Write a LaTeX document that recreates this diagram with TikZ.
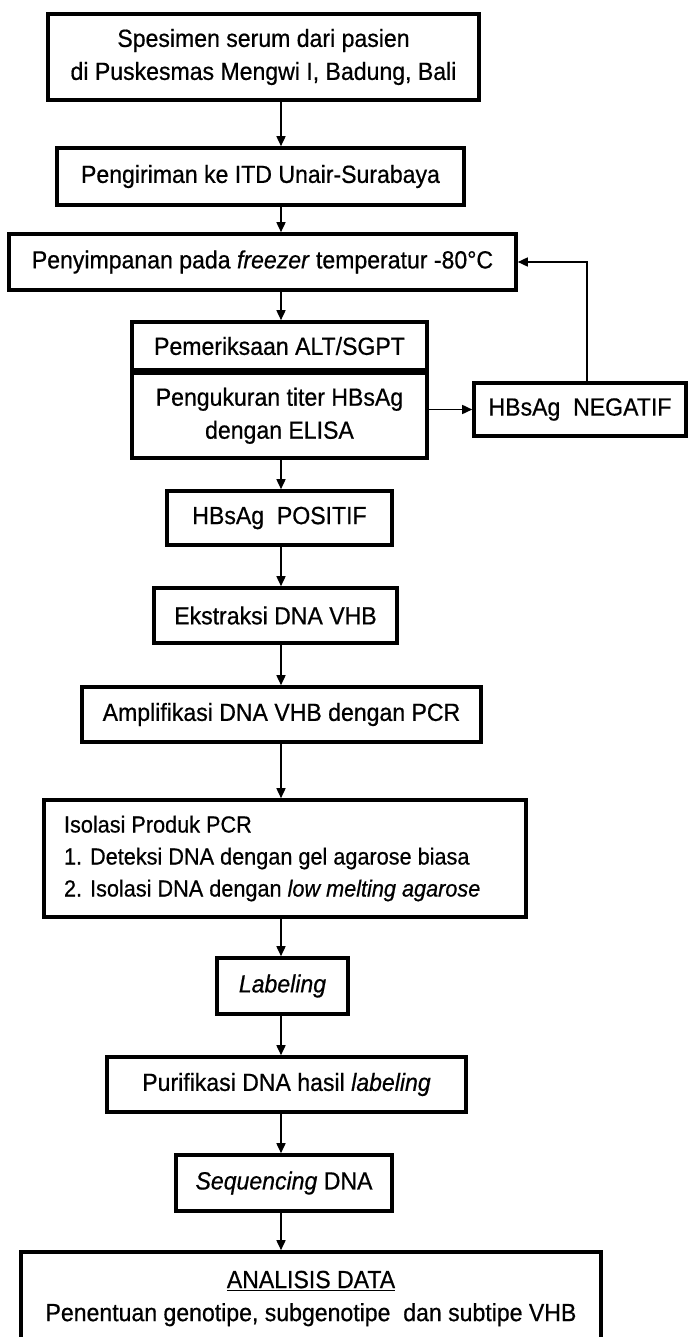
\documentclass[tikz,border=0pt]{standalone}
\usepackage{fontspec}
\setmainfont{Liberation Sans}[FakeStretch=0.93,FakeBold=0.6]
\usetikzlibrary{arrows.meta}
\begin{document}
\begin{tikzpicture}[x=1pt,y=-1pt,
  box/.style={draw, line width=3.6pt, inner sep=0pt, align=center, font=\fontsize{24.8}{33}\selectfont},
  arr/.style={line width=1.6pt, -{Triangle[length=10pt,width=9pt]}}]
\useasboundingbox (0,0) rectangle (689,1337);
\coordinate (ax) at (281,0);
\coordinate (fb) at (587,0);
\node[box, minimum width=431, minimum height=86] (b1) at (263.5,57) {Spesimen serum dari pasien\\di Puskesmas Mengwi I, Badung, Bali};
\node[box, minimum width=407, minimum height=57] (b2) at (260.5,176.5) {Pengiriman ke ITD Unair-Surabaya};
\node[box, minimum width=507, minimum height=56] (b3) at (262.5,262) {Penyimpanan pada \textit{freezer} temperatur -80°C};
\node[box, minimum width=295, minimum height=48] (b4a) at (279.5,346) {Pemeriksaan ALT/SGPT};
\node[box, minimum width=295, minimum height=84.4] (b4b) at (279.5,415.8) {Pengukuran titer HBsAg\\dengan ELISA};
\node[box, minimum width=212, minimum height=53] (neg) at (580,409.5) {HBsAg\ \ NEGATIF};
\node[box, minimum width=225, minimum height=54] (pos) at (279.5,518) {HBsAg\ \ POSITIF};
\node[box, minimum width=243, minimum height=55] (ext) at (275.5,615.5) {Ekstraksi DNA VHB};
\node[box, minimum width=399, minimum height=55] (amp) at (281.5,714.5) {Amplifikasi DNA VHB dengan PCR};
\node[box, minimum width=482, minimum height=117, align=flush left, inner xsep=20pt, text width=442pt, font=\fontsize{23.3}{32}\selectfont] (iso) at (285,858.5) {Isolasi Produk PCR\\1. Deteksi DNA dengan gel agarose biasa\\2. Isolasi DNA dengan \textit{low melting agarose}};
\node[box, minimum width=131, minimum height=56] (lab) at (282.5,986) {\textit{Labeling}};
\node[box, minimum width=359, minimum height=55] (pur) at (286.5,1084.5) {Purifikasi DNA hasil \textit{labeling}};
\node[box, minimum width=216, minimum height=56] (seq) at (284,1183) {\textit{Sequencing} DNA};
\node[box, minimum width=580, minimum height=93] (ana) at (311,1298.5) {\underline{ANALISIS DATA}\\Penentuan genotipe, subgenotipe\ \ dan subtipe VHB};
\draw[arr] (b1.south -| ax) -- (b2.north -| ax);
\draw[arr] (b2.south -| ax) -- (b3.north -| ax);
\draw[arr] (b3.south -| ax) -- (b4a.north -| ax);
\draw[arr] (neg.west -| b4b.east) -- (neg.west);
\draw[arr] (neg.north -| fb) |- (b3.east);
\draw[arr] (b4b.south -| ax) -- (pos.north -| ax);
\draw[arr] (pos.south -| ax) -- (ext.north -| ax);
\draw[arr] (ext.south -| ax) -- (amp.north -| ax);
\draw[arr] (amp.south -| ax) -- (iso.north -| ax);
\draw[arr] (iso.south -| ax) -- (lab.north -| ax);
\draw[arr] (lab.south -| ax) -- (pur.north -| ax);
\draw[arr] (pur.south -| ax) -- (seq.north -| ax);
\draw[arr] (seq.south -| ax) -- (ana.north -| ax);
\end{tikzpicture}
\end{document}
